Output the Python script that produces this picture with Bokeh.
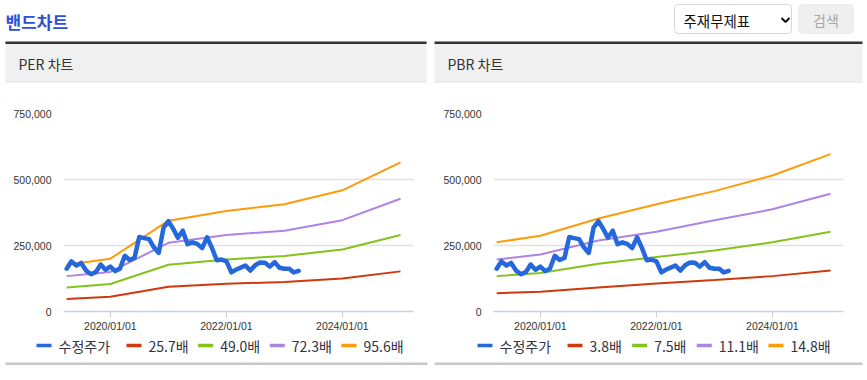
import pandas as pd
from datetime import datetime
from bokeh.plotting import figure
from bokeh.layouts import column, row
from bokeh.models import (Range1d, FixedTicker, NumeralTickFormatter, DatetimeTickFormatter,
                          BoxAnnotation)
from bokeh.core.properties import value
from bokeh.embed import file_html
from bokeh.resources import INLINE

# ---------------- data ----------------
price_months = pd.date_range("2019-04-01", periods=49, freq="MS")
price = [162000, 190000, 174000, 184000, 155000, 141000, 149000, 178000, 158000, 170000,
         153000, 162000, 211000, 195000, 203000, 282000, 278000, 274000, 243000, 222000,
         318000, 342000, 312000, 279000, 306000, 255000, 262000, 256000, 240000, 281000,
         242000, 194000, 197000, 190000, 148000, 158000, 166000, 174000, 155000, 175000,
         186000, 185000, 170000, 187000, 166000, 162000, 162000, 148000, 154000]

band_dates = pd.to_datetime(["2019-04-01", "2020-01-01", "2021-01-01", "2022-01-01",
                             "2023-01-01", "2024-01-01", "2025-01-01"])

per_labels = ["수정주가", "25.7배", "49.0배", "72.3배", "95.6배"]
per_band_1 = [47500, 56000, 94000, 105000, 112000, 125000, 152000]
per_band_2 = [91000, 104000, 177000, 197000, 210000, 235000, 290000]
per_band_3 = [134000, 150000, 260000, 290000, 306000, 346000, 427000]
per_band_4 = [177000, 200000, 344000, 381000, 406000, 459000, 565000]

pbr_labels = ["수정주가", "3.8배", "7.5배", "11.1배", "14.8배"]
pbr_band_1 = [69000, 75000, 91000, 106000, 119000, 134000, 155000]
pbr_band_2 = [134000, 146000, 181000, 206000, 231000, 262000, 302000]
pbr_band_3 = [197000, 216000, 269000, 302000, 346000, 387000, 446000]
pbr_band_4 = [262000, 287000, 352000, 406000, 456000, 515000, 596000]

y_ticks = [0, 250000, 500000, 750000]
x_tick_dates = ["2020-01-01", "2022-01-01", "2024-01-01"]

# ---------------- styles ----------------
PRICE_COLOR = "#2468dc"
BAND_COLORS = ["#d0390d", "#82c31e", "#ad84e0", "#ff9a0a"]
KR = "Noto Sans CJK KR"
AX = "Liberation Sans"
TXT = "#333333"


def page_fig(x0, x1, y0, y1):
    p = figure(width=x1 - x0, height=y1 - y0, x_range=Range1d(x0, x1),
               y_range=Range1d(y1, y0), x_axis_type=None, y_axis_type=None,
               output_backend="svg", toolbar_location=None, min_border=0)
    p.outline_line_color = None
    p.grid.visible = False
    p.background_fill_color = "white"
    p.border_fill_color = "white"
    return p


# ---------------- top (title, select, headers) ----------------
top = page_fig(0, 864, 0, 83)
top.text(x=[5], y=[21], text=["밴드차트"], text_font=value(KR), text_font_size="17px",
         text_font_style="bold", text_color="#2b52d6", text_baseline="middle", text_align="left")
top.add_layout(BoxAnnotation(left=674, right=791, top=4, bottom=33, fill_color="white",
                             fill_alpha=1, line_color="#767676", line_width=1, border_radius=4,
                             level="underlay"))
top.text(x=[683], y=[19.5], text=["주재무제표"], text_font=value(KR), text_font_size="14.5px",
         text_color="#111111", text_baseline="middle", text_align="left")
top.line(x=[781, 785, 789], y=[17.5, 21.5, 17.5], line_color="#111111", line_width=2)
top.add_layout(BoxAnnotation(left=798, right=853, top=4, bottom=33, fill_color="#efefef",
                             fill_alpha=1, line_color="#d6d6d6", line_width=1, border_radius=4,
                             level="underlay"))
top.text(x=[825.5], y=[19.5], text=["검색"], text_font=value(KR), text_font_size="14px",
         text_color="#a6a6a6", text_baseline="middle", text_align="center")
for (xl, xr), lab in zip([(5, 426), (434, 862)], ["PER 차트", "PBR 차트"]):
    top.quad(left=[xl], right=[xr], top=[41], bottom=[43.5], fill_color="#333333", line_color=None)
    top.quad(left=[xl], right=[xr], top=[43.5], bottom=[81], fill_color="#f0f0f0", line_color=None)
    top.quad(left=[xl], right=[xr], top=[81], bottom=[82], fill_color="#dcdcdc", line_color=None)
    top.text(x=[xl + 13], y=[63], text=[lab], text_font=value(KR),
             text_font_size="14px", text_color=TXT, text_baseline="middle", text_align="left")

# ---------------- charts ----------------
X0 = datetime(2019, 3, 12)
X1 = datetime(2025, 3, 24)
tick_ms = [pd.Timestamp(d).timestamp() * 1000 for d in x_tick_dates]


def make_chart(width, mb_left, mb_right, bands):
    p = figure(width=width, height=251, x_axis_type="datetime",
               x_range=Range1d(X0, X1), y_range=Range1d(0, 750000),
               output_backend="svg", toolbar_location=None,
               min_border_left=mb_left, min_border_right=mb_right,
               min_border_top=30, min_border_bottom=21)
    p.outline_line_color = None
    p.background_fill_color = "white"
    p.border_fill_color = "white"
    p.xgrid.visible = False
    p.ygrid.grid_line_color = "#e2e2e2"
    p.ygrid.grid_line_width = 1.3
    p.ygrid.ticker = FixedTicker(ticks=y_ticks)

    p.yaxis.ticker = FixedTicker(ticks=y_ticks)
    p.yaxis.formatter = NumeralTickFormatter(format="0,0")
    p.yaxis.axis_line_color = None
    p.yaxis.major_tick_line_color = None
    p.yaxis.minor_tick_line_color = None
    p.yaxis.major_label_standoff = 6
    p.yaxis.major_label_text_font = AX
    p.yaxis.major_label_text_font_size = "10.5px"
    p.yaxis.major_label_text_color = TXT

    p.xaxis.ticker = FixedTicker(ticks=tick_ms)
    p.xaxis.formatter = DatetimeTickFormatter(years="%Y/%m/%d", months="%Y/%m/%d",
                                              days="%Y/%m/%d")
    p.xaxis.axis_line_color = "#c6d2de"
    p.xaxis.axis_line_width = 1.5
    p.xaxis.major_tick_line_color = "#c6d2de"
    p.xaxis.major_tick_out = 6
    p.xaxis.major_tick_in = 0
    p.xaxis.minor_tick_line_color = None
    p.xaxis.major_label_standoff = 2
    p.xaxis.major_label_text_font = AX
    p.xaxis.major_label_text_font_size = "10.5px"
    p.xaxis.major_label_text_color = TXT

    for vals, col in zip(bands, BAND_COLORS):
        p.line(band_dates, vals, line_color=col, line_width=2)
    p.line(price_months, price, line_color=PRICE_COLOR, line_width=4.5,
           line_join="round", line_cap="round")
    return p


left = make_chart(430, 63, 17, [per_band_1, per_band_2, per_band_3, per_band_4])
right = make_chart(434, 63, 21, [pbr_band_1, pbr_band_2, pbr_band_3, pbr_band_4])

# ---------------- legends + bottom borders ----------------
foot = page_fig(0, 864, 334, 369)


def est_width(s):
    return sum(14.25 if ord(c) > 0x3000 else (3.4 if c == "." else 7.0) for c in s)


for start, labels in [(36, per_labels), (477, pbr_labels)]:
    x = start
    for lab, col in zip(labels, [PRICE_COLOR] + BAND_COLORS):
        foot.segment(x0=[x], y0=[345], x1=[x + 15], y1=[345], line_color=col, line_width=3.5)
        foot.text(x=[x + 22], y=[345], text=[lab], text_font=value(KR), text_font_size="14px",
                  text_color="#333344", text_baseline="middle", text_align="left")
        x += 22 + est_width(lab) + 11

for xl, xr in [(5, 427), (434, 862)]:
    foot.quad(left=[xl], right=[xr], top=[362], bottom=[364.5], fill_color="#c8c8c8",
              line_color=None)

layout = column(top, row(left, right), foot)
open("out.html", "w").write(file_html(layout, INLINE))
